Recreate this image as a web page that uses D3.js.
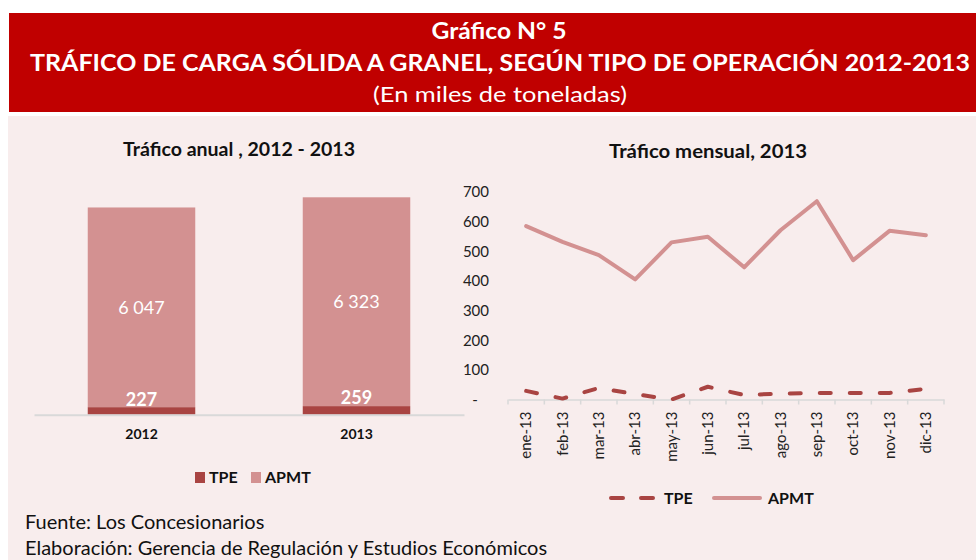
<!DOCTYPE html>
<html>
<head>
<meta charset="utf-8">
<script src="https://cdn.jsdelivr.net/npm/d3@7"></script>
<style>
  body { margin: 0; background: #fff; }
  svg { display: block; font-family: Lato, "Open Sans", sans-serif; }
</style>
</head>
<body>
<svg id="chart" width="976" height="560"></svg>
<script>
// datos (miles de toneladas)
var years = ["2012", "2013"];
var tpeAnual = [227, 259];
var apmtAnual = [6047, 6323];

var meses = ["ene-13", "feb-13", "mar-13", "abr-13", "may-13", "jun-13",
             "jul-13", "ago-13", "sep-13", "oct-13", "nov-13", "dic-13"];
var tpeMensual = [29, 3, 39, 18, 0, 43, 15, 20, 22, 22, 22, 36];
var apmtMensual = [585, 532, 487, 405, 530, 549, 446, 571, 669, 470, 569, 554];
var yTicks = [0, 100, 200, 300, 400, 500, 600, 700];

var colTPE = "#a94442", colAPMT = "#d39191";

var svg = d3.select("#chart");
var fmt = d3.formatLocale({decimal: ",", thousands: " ", grouping: [3], currency: ["", ""]}).format(",");

// fondo y cabecera
svg.append("rect").attr("x", 8).attr("y", 116).attr("width", 968).attr("height", 444).attr("fill", "#f8eded");
svg.append("rect").attr("x", 9).attr("y", 13).attr("width", 967).attr("height", 99).attr("fill", "#c00000");

function fitText(sel, w) {
  var l = sel.node().getComputedTextLength();
  if (Math.abs(l - w) > 2) sel.attr("textLength", w).attr("lengthAdjust", "spacingAndGlyphs");
  return sel;
}

var head = svg.append("g").attr("fill", "#fff").attr("text-anchor", "middle");
fitText(head.append("text").attr("x", 499).attr("y", 39).attr("font-size", 23).attr("font-weight", "bold")
  .text("Gráfico N° 5"), 135);
fitText(head.append("text").attr("x", 500).attr("y", 71).attr("font-size", 23).attr("font-weight", "bold")
  .text("TRÁFICO DE CARGA SÓLIDA A GRANEL, SEGÚN TIPO DE OPERACIÓN 2012-2013"), 940);
fitText(head.append("text").attr("x", 500).attr("y", 102).attr("font-size", 22)
  .text("(En miles de toneladas)"), 254);

// ---------- Tráfico anual (barras apiladas) ----------
var gL = svg.append("g");
var xB = d3.scaleBand().domain(years).range([34, 464]).paddingInner(0.5).paddingOuter(0.25);
var yB = d3.scaleLinear().domain([0, 7000]).range([414.7, 414.7 - 7000 * 0.03303]);

fitText(gL.append("text").attr("x", 239).attr("y", 156).attr("text-anchor", "middle")
  .attr("font-size", 18).attr("font-weight", "bold").attr("fill", "#111")
  .text("Tráfico anual , 2012 - 2013"), 232);

years.forEach(function(yr, i) {
  gL.append("rect").attr("x", xB(yr)).attr("width", xB.bandwidth())
    .attr("y", yB(tpeAnual[i] + apmtAnual[i])).attr("height", yB(tpeAnual[i]) - yB(tpeAnual[i] + apmtAnual[i]))
    .attr("fill", colAPMT);
  gL.append("rect").attr("x", xB(yr)).attr("width", xB.bandwidth())
    .attr("y", yB(tpeAnual[i])).attr("height", yB(0) - yB(tpeAnual[i]))
    .attr("fill", colTPE);
  gL.append("text").attr("x", xB(yr) + xB.bandwidth() / 2)
    .attr("y", (yB(tpeAnual[i]) + yB(tpeAnual[i] + apmtAnual[i])) / 2).attr("dy", "0.35em")
    .attr("text-anchor", "middle").attr("font-size", 18).attr("fill", "#fff")
    .text(fmt(apmtAnual[i]));
  gL.append("text").attr("x", xB(yr) + xB.bandwidth() / 2)
    .attr("y", yB(tpeAnual[i]) - 8).attr("dy", "0.35em")
    .attr("text-anchor", "middle").attr("font-size", 18).attr("font-weight", "bold").attr("fill", "#fff")
    .text(fmt(tpeAnual[i]));
});

var axL = gL.append("g").attr("transform", "translate(0," + yB(0) + ")")
  .call(d3.axisBottom(xB).tickSize(0).tickPadding(14));
axL.select(".domain").attr("stroke", "#d9d9d9").attr("stroke-width", 2);
axL.selectAll("text").attr("font-size", 14).attr("font-weight", "bold").attr("fill", "#111")
  .attr("font-family", "Lato, sans-serif");

var legL = gL.append("g").attr("font-size", 16).attr("font-weight", "bold").attr("fill", "#111");
[["TPE", colTPE, 195], ["APMT", colAPMT, 251]].forEach(function(d) {
  legL.append("rect").attr("x", d[2]).attr("y", 472).attr("width", 10).attr("height", 11).attr("fill", d[1]);
  legL.append("text").attr("x", d[2] + 14).attr("y", 483).text(d[0]);
});

// ---------- Tráfico mensual (líneas) ----------
var gR = svg.append("g");
var xM = d3.scaleBand().domain(meses).range([508, 944]);
var yM = d3.scaleLinear().domain([0, 700]).range([399.5, 192]);

fitText(gR.append("text").attr("x", 708).attr("y", 158).attr("text-anchor", "middle")
  .attr("font-size", 18).attr("font-weight", "bold").attr("fill", "#111")
  .text("Tráfico mensual, 2013"), 198);

var ayR = gR.append("g").attr("transform", "translate(489,0)")
  .call(d3.axisLeft(yM).tickValues(yTicks).tickSize(0).tickPadding(0)
    .tickFormat(function(v) { return v === 0 ? "-\u2003" : v; }));
ayR.select(".domain").remove();
ayR.selectAll("text").attr("font-size", 15).attr("fill", "#222").attr("font-family", "Lato, sans-serif");

var axR = gR.append("g").attr("transform", "translate(0," + yM(0) + ")")
  .call(d3.axisBottom(xM).tickSize(0).tickPadding(8));
axR.select(".domain").attr("stroke", "#d9d9d9").attr("stroke-width", 1.5);
axR.selectAll("text").attr("font-size", 15).attr("fill", "#222").attr("font-family", "Lato, sans-serif")
  .attr("transform", "rotate(-90)").attr("text-anchor", "end")
  .attr("x", -12).attr("y", 0).attr("dy", "0.35em");
// marcas entre categorías
axR.selectAll(".sep").data(meses.concat(["fin"])).enter().append("line")
  .attr("x1", function(d, i) { return i < meses.length ? xM(d) : xM.range()[1]; })
  .attr("x2", function(d, i) { return i < meses.length ? xM(d) : xM.range()[1]; })
  .attr("y1", 0).attr("y2", 5).attr("stroke", "#d9d9d9").attr("stroke-width", 1.5);

var line = d3.line()
  .x(function(d, i) { return xM(meses[i]) + xM.bandwidth() / 2; })
  .y(function(d) { return yM(d); });

gR.append("path").datum(apmtMensual).attr("d", line)
  .attr("fill", "none").attr("stroke", colAPMT).attr("stroke-width", 4)
  .attr("stroke-linejoin", "round").attr("stroke-linecap", "round");
gR.append("path").datum(tpeMensual).attr("d", line)
  .attr("fill", "none").attr("stroke", colTPE).attr("stroke-width", 4)
  .attr("stroke-dasharray", "11,19").attr("stroke-linejoin", "round").attr("stroke-linecap", "round");

var legR = gR.append("g").attr("font-size", 16).attr("font-weight", "bold").attr("fill", "#111");
legR.append("line").attr("x1", 611).attr("x2", 653).attr("y1", 498).attr("y2", 498)
  .attr("stroke", colTPE).attr("stroke-width", 4).attr("stroke-dasharray", "12,18").attr("stroke-linecap", "round");
legR.append("text").attr("x", 664).attr("y", 504).text("TPE");
legR.append("line").attr("x1", 714).attr("x2", 760).attr("y1", 498).attr("y2", 498)
  .attr("stroke", colAPMT).attr("stroke-width", 4).attr("stroke-linecap", "round");
legR.append("text").attr("x", 768).attr("y", 504).text("APMT");

// pie
var foot = svg.append("g").attr("font-size", 20).attr("fill", "#111");
foot.append("text").attr("x", 25).attr("y", 529).text("Fuente: Los Concesionarios");
foot.append("text").attr("x", 25).attr("y", 555).text("Elaboración: Gerencia de Regulación y Estudios Económicos");
</script>
</body>
</html>
